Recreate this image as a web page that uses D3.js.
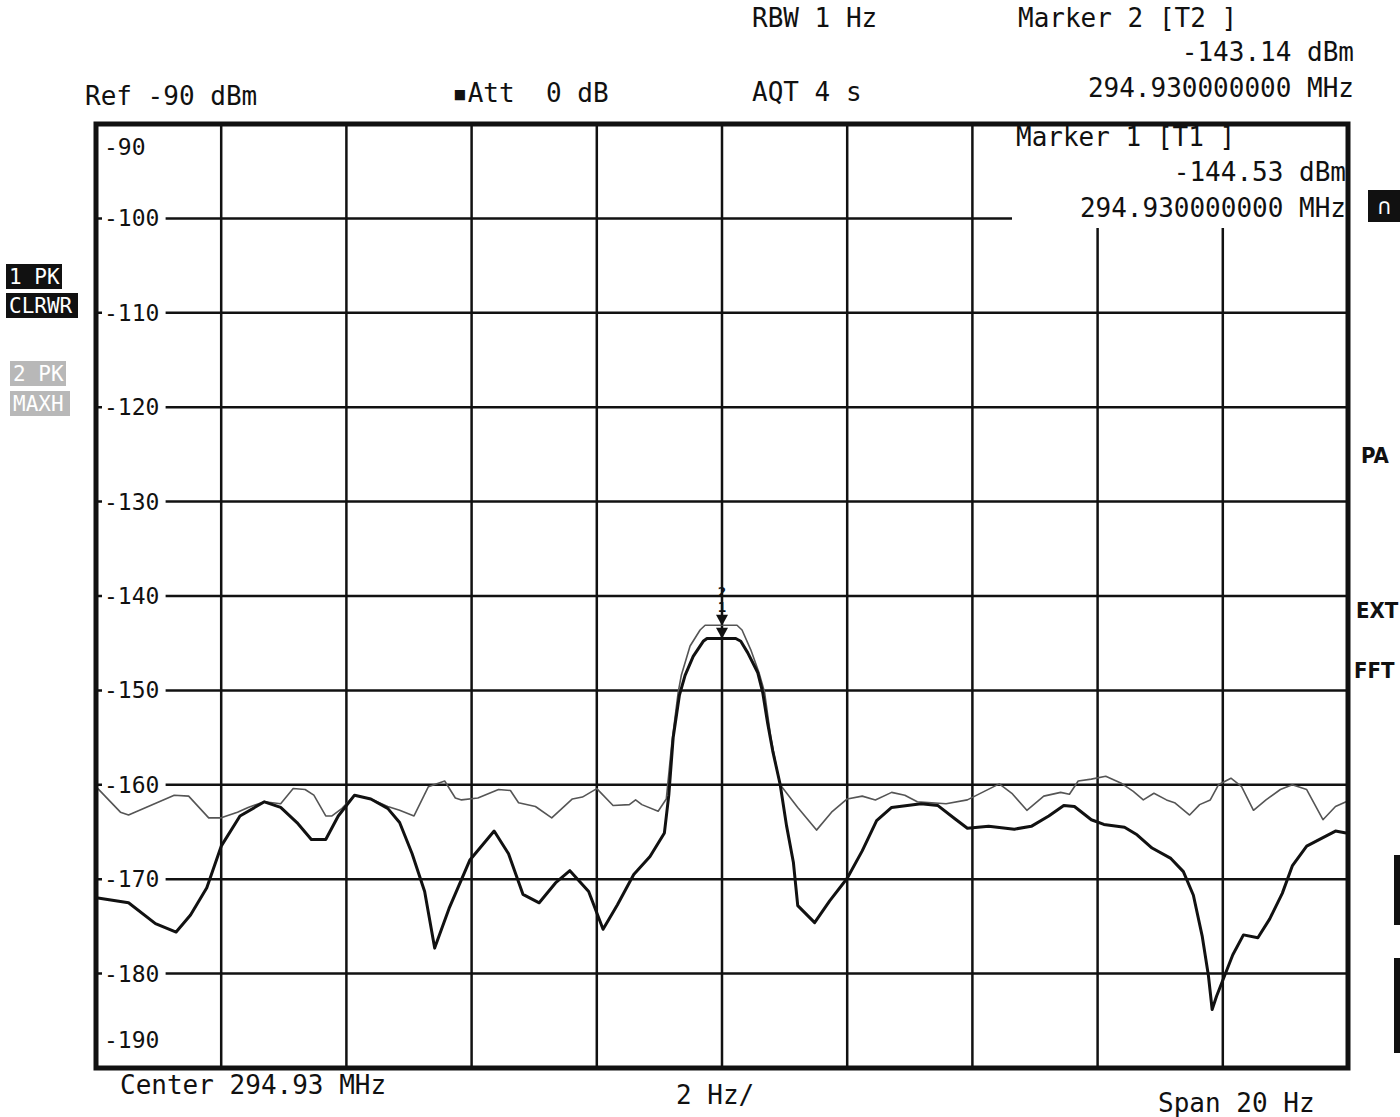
<!DOCTYPE html>
<html>
<head>
<meta charset="utf-8">
<script src="https://cdn.jsdelivr.net/npm/d3@7"></script>
<style>
  body { margin: 0; background: #fff; }
  text { font-family: "DejaVu Sans Mono", monospace; fill: #111; white-space: pre; }
</style>
</head>
<body>
<div id="chart"></div>
<script>
// level grid (dBm) and frequency grid (Hz offset from 294.93 MHz)
const levelTicks = [-90, -100, -110, -120, -130, -140, -150, -160, -170, -180, -190];
const freqTicks = [-10, -8, -6, -4, -2, 0, 2, 4, 6, 8, 10];

// trace 1 : PK / CLRWR (thick)
const trace1Freq = [-9.97,-9.48,-9.05,-8.72,-8.49,-8.23,-8.0,-7.70,-7.31,-7.05,-6.79,-6.56,-6.33,-6.13,-5.87,-5.61,-5.34,-5.15,-4.95,-4.75,-4.59,-4.36,-4.03,-3.64,-3.41,-3.18,-2.92,-2.66,-2.43,-2.13,-1.90,-1.67,-1.41,-1.15,-0.92,-0.85,-0.78,-0.68,-0.59,-0.46,-0.30,-0.24,0.22,0.30,0.41,0.57,0.65,0.73,0.81,0.93,1.03,1.14,1.21,1.48,1.72,2.0,2.24,2.47,2.71,3.18,3.45,3.72,3.92,4.26,4.67,4.94,5.22,5.46,5.63,5.90,6.10,6.43,6.63,6.87,7.17,7.37,7.53,7.67,7.77,7.83,7.90,8.03,8.16,8.33,8.56,8.75,8.95,9.11,9.34,9.60,9.80,9.97];
const trace1Level = [-172.0,-172.5,-174.7,-175.6,-173.8,-170.9,-166.5,-163.3,-161.8,-162.4,-164.0,-165.8,-165.8,-163.3,-161.1,-161.5,-162.5,-164.0,-167.3,-171.3,-177.3,-173.1,-168.0,-164.9,-167.3,-171.6,-172.5,-170.4,-169.1,-171.3,-175.3,-172.7,-169.5,-167.6,-165.1,-161.1,-155.0,-150.5,-148.4,-146.4,-144.8,-144.5,-144.5,-144.8,-146.0,-148.1,-150.2,-153.5,-156.4,-160.0,-164.3,-168.2,-172.8,-174.6,-172.3,-169.9,-167.0,-163.8,-162.4,-162.0,-162.2,-163.6,-164.6,-164.4,-164.7,-164.4,-163.3,-162.2,-162.3,-163.7,-164.2,-164.5,-165.3,-166.7,-167.8,-169.2,-171.7,-176.0,-180.2,-183.8,-182.4,-180.2,-178.0,-175.9,-176.2,-174.2,-171.5,-168.6,-166.5,-165.6,-164.9,-165.1];

// trace 2 : PK / MAXH (thin)
const trace2Freq = [-9.97,-9.61,-9.48,-8.75,-8.52,-8.20,-8.0,-7.74,-7.57,-7.31,-7.05,-6.85,-6.66,-6.52,-6.33,-6.23,-6.07,-5.87,-5.61,-5.34,-5.15,-4.92,-4.69,-4.43,-4.26,-4.16,-3.90,-3.57,-3.38,-3.25,-2.98,-2.72,-2.39,-2.23,-2.0,-1.74,-1.48,-1.38,-1.28,-1.02,-0.89,-0.80,-0.70,-0.65,-0.51,-0.35,-0.27,0.24,0.32,0.46,0.59,0.68,0.78,0.88,0.93,1.21,1.51,1.75,2.0,2.24,2.45,2.71,2.92,3.12,3.58,3.92,4.19,4.43,4.63,4.87,5.14,5.41,5.55,5.69,5.90,6.13,6.37,6.57,6.73,6.90,7.10,7.23,7.47,7.63,7.80,7.93,8.13,8.30,8.49,8.69,8.92,9.11,9.34,9.60,9.80,9.97];
const trace2Level = [-160.4,-162.9,-163.2,-161.1,-161.2,-163.5,-163.5,-162.9,-162.4,-161.8,-162.0,-160.4,-160.5,-161.1,-163.3,-163.3,-162.5,-161.1,-161.5,-162.3,-162.7,-163.3,-160.2,-159.6,-161.4,-161.6,-161.4,-160.5,-160.6,-161.9,-162.3,-163.5,-161.5,-161.3,-160.4,-162.2,-162.1,-161.6,-162.1,-162.8,-161.5,-155.5,-150.2,-148.4,-145.3,-143.6,-143.1,-143.1,-143.6,-145.7,-148.1,-150.2,-155.0,-158.5,-160.0,-162.4,-164.8,-162.9,-161.5,-161.2,-161.6,-160.8,-161.1,-161.8,-162.0,-161.6,-160.7,-159.9,-160.9,-162.7,-161.2,-160.8,-161.0,-159.6,-159.4,-159.1,-159.8,-160.7,-161.6,-160.9,-161.6,-161.9,-163.2,-162.1,-161.6,-160.0,-159.3,-160.2,-162.7,-161.6,-160.5,-160.0,-160.5,-163.7,-162.3,-161.8];

// markers
const markerIds = ["1", "2"];
const markerFreq = [0, 0];
const markerLevel = [-144.53, -143.14];

const W = 1400, H = 1117;
const plot = { left: 96, right: 1348, top: 124, bottom: 1068 };

const svg = d3.select("#chart").append("svg")
    .attr("width", W)
    .attr("height", H);

const x = d3.scaleLinear().domain([-10, 10]).range([plot.left, plot.right]);
const y = d3.scaleLinear().domain([-190, -90]).range([plot.bottom, plot.top]);

// grid
const grid = svg.append("g").attr("stroke", "#111").attr("stroke-width", 2.5);
grid.selectAll(".vline")
    .data(freqTicks.slice(1, -1))
    .join("line")
    .attr("x1", d => x(d)).attr("x2", d => x(d))
    .attr("y1", plot.top).attr("y2", plot.bottom);
grid.selectAll(".hline")
    .data(levelTicks.slice(1, -1))
    .join("line")
    .attr("x1", plot.left).attr("x2", plot.right)
    .attr("y1", d => y(d)).attr("y2", d => y(d));

// level labels inside the frame
const labels = svg.append("g");
levelTicks.forEach((t, i) => {
  let cy = y(t);
  if (i === 0) cy = y(t) + 23;
  if (i === levelTicks.length - 1) cy = y(t) - 28;
  const w = String(t).length * 13.9;
  labels.append("rect")
      .attr("x", plot.left + 6).attr("y", cy - 13)
      .attr("width", w + 8).attr("height", 26)
      .attr("fill", "#fff");
  labels.append("text")
      .attr("x", plot.left + 8).attr("y", cy + 8)
      .style("font-size", "23px")
      .text(t);
});

// marker readout box (covers the grid)
svg.append("rect")
    .attr("x", 1012).attr("y", plot.top)
    .attr("width", plot.right - 1012).attr("height", 104)
    .attr("fill", "#fff");

// traces
const line = d3.line()
    .x(d => x(d[0]))
    .y(d => y(d[1]));

svg.append("path")
    .datum(d3.zip(trace2Freq, trace2Level))
    .attr("fill", "none")
    .attr("stroke", "#555")
    .attr("stroke-width", 1.6)
    .attr("stroke-linejoin", "round")
    .attr("d", line);

svg.append("path")
    .datum(d3.zip(trace1Freq, trace1Level))
    .attr("fill", "none")
    .attr("stroke", "#111")
    .attr("stroke-width", 3)
    .attr("stroke-linejoin", "round")
    .attr("d", line);

// markers: down triangles, numbers stacked above the upper one
const markerTop = y(d3.max(markerLevel)) - 13;
markerIds.forEach((id, i) => {
  const mx = x(markerFreq[i]), my = y(markerLevel[i]);
  svg.append("path")
      .attr("d", `M${mx - 6},${my - 11}L${mx + 6},${my - 11}L${mx},${my}Z`)
      .attr("fill", "#111");
});
markerIds.forEach((id, i) => {
  svg.append("text")
      .attr("x", x(markerFreq[i])).attr("y", markerTop - 1 - i * 15)
      .attr("text-anchor", "middle")
      .style("font-size", "14px")
      .style("font-weight", "bold")
      .text(id);
});

// frame
svg.append("rect")
    .attr("x", plot.left).attr("y", plot.top)
    .attr("width", plot.right - plot.left)
    .attr("height", plot.bottom - plot.top)
    .attr("fill", "none")
    .attr("stroke", "#111")
    .attr("stroke-width", 5);

// header texts
const header = [
  { t: "RBW 1 Hz", x: 752, y: 27, a: "start" },
  { t: "Marker 2 [T2 ]", x: 1018, y: 27, a: "start" },
  { t: "-143.14 dBm", x: 1354, y: 61, a: "end" },
  { t: "Ref -90 dBm", x: 85, y: 105, a: "start" },
  { t: "\u25AAAtt  0 dB", x: 452, y: 102, a: "start" },
  { t: "AQT 4 s", x: 752, y: 101, a: "start" },
  { t: "294.930000000 MHz", x: 1354, y: 97, a: "end" },
  { t: "Marker 1 [T1 ]", x: 1016, y: 146, a: "start" },
  { t: "-144.53 dBm", x: 1346, y: 181, a: "end" },
  { t: "294.930000000 MHz", x: 1346, y: 217, a: "end" },
  { t: "Center 294.93 MHz", x: 120, y: 1094, a: "start" },
  { t: "2 Hz/", x: 676, y: 1104, a: "start" },
  { t: "Span 20 Hz", x: 1158, y: 1112, a: "start" }
];
svg.selectAll(".hdr")
    .data(header)
    .join("text")
    .attr("x", d => d.x).attr("y", d => d.y)
    .attr("text-anchor", d => d.a)
    .style("font-size", "26px")
    .text(d => d.t);

// trace status boxes on the left
const status = [
  { t: "1 PK", x: 6, y: 264, w: 56, bg: "#111" },
  { t: "CLRWR", x: 6, y: 293, w: 72, bg: "#111" },
  { t: "2 PK", x: 10, y: 361, w: 56, bg: "#b8b8b8" },
  { t: "MAXH", x: 10, y: 391, w: 60, bg: "#b8b8b8" }
];
const st = svg.selectAll(".status").data(status).join("g");
st.append("rect")
    .attr("x", d => d.x).attr("y", d => d.y)
    .attr("width", d => d.w).attr("height", 25)
    .attr("fill", d => d.bg);
st.append("text")
    .attr("x", d => d.x + 3).attr("y", d => d.y + 20)
    .style("font-size", "21px")
    .style("fill", "#fff")
    .text(d => d.t);

// right-hand annotations
svg.append("rect").attr("x", 1368).attr("y", 190).attr("width", 32).attr("height", 32).attr("fill", "#111");
svg.append("text").attr("x", 1384).attr("y", 214).attr("text-anchor", "middle")
    .style("font-size", "22px").style("fill", "#fff").text("\u2229");
const side = [
  { t: "PA", x: 1361, y: 463 },
  { t: "EXT", x: 1356, y: 618 },
  { t: "FFT", x: 1354, y: 678 }
];
svg.selectAll(".side")
    .data(side)
    .join("text")
    .attr("x", d => d.x).attr("y", d => d.y)
    .style("font-family", "'DejaVu Sans Condensed', sans-serif")
    .style("font-size", "22px")
    .style("font-weight", "bold")
    .text(d => d.t);
svg.append("rect").attr("x", 1394).attr("y", 855).attr("width", 6).attr("height", 70).attr("fill", "#111");
svg.append("rect").attr("x", 1394).attr("y", 958).attr("width", 6).attr("height", 95).attr("fill", "#111");
</script>
</body>
</html>
